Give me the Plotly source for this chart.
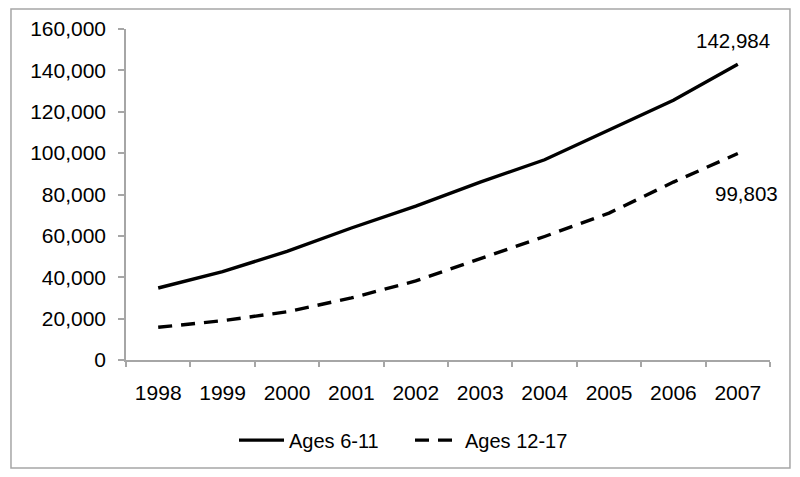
import plotly.graph_objects as go

years = ["1998", "1999", "2000", "2001", "2002", "2003", "2004", "2005", "2006", "2007"]
ages_6_11 = [34800, 42700, 52500, 63800, 74400, 86000, 96800, 111000, 125600, 142984]
ages_12_17 = [15800, 19000, 23300, 30000, 38200, 48800, 59700, 71000, 86000, 99803]
y_ticks = [0, 20000, 40000, 60000, 80000, 100000, 120000, 140000, 160000]

FONT = "Liberation Sans, Arial, sans-serif"
GRAY = "#a6a6a6"
FS = 21

fig = go.Figure()
fig.add_trace(go.Scatter(x=years, y=ages_6_11, mode="lines", name="Ages 6-11",
                         line=dict(color="black", width=3.4)))
fig.add_trace(go.Scatter(x=years, y=ages_12_17, mode="lines", name="Ages 12-17",
                         line=dict(color="black", width=3.4, dash="14px,9px")))

last = len(years) - 1
fig.add_annotation(xref="x", yref="y", x=last, y=ages_6_11[-1], text=f"{ages_6_11[-1]:,}",
                   showarrow=False, xshift=-5, yshift=24,
                   font=dict(family=FONT, size=20.5, color="black"))
fig.add_annotation(xref="x", yref="y", x=last, y=ages_12_17[-1], text=f"{ages_12_17[-1]:,}",
                   showarrow=False, xshift=9, yshift=-40,
                   font=dict(family=FONT, size=20.5, color="black"))

# plot area: 644 x 331 px
fig.add_shape(type="rect", xref="paper", yref="paper", x0=-0.1786, x1=1.031, y0=-0.326, y1=1.0604,
              line=dict(color=GRAY, width=1.5), fillcolor="rgba(0,0,0,0)", layer="below")

fig.update_layout(
    width=800, height=477,
    margin=dict(l=118, r=38, t=21, b=125, autoexpand=False),
    paper_bgcolor="white", plot_bgcolor="white",
    font=dict(family=FONT, size=FS, color="black"),
    showlegend=True,
    legend=dict(orientation="h", x=0.441, xanchor="center",
                y=-0.242, yanchor="middle",
                font=dict(family=FONT, size=20, color="black"), itemwidth=45,
                entrywidth=116, entrywidthmode="pixels",
                bgcolor="rgba(0,0,0,0)"),
    xaxis=dict(type="category", showgrid=False, showline=True, linecolor=GRAY, linewidth=1.5,
               ticks="outside", tickson="boundaries", ticklen=5, tickcolor=GRAY, tickwidth=1.5,
               ticklabelstandoff=13, tickfont=dict(family=FONT, size=FS, color="black"),
               range=[-0.5, 9.5], zeroline=False, tickangle=0),
    yaxis=dict(range=[0, 160000], tickvals=y_ticks, tickformat=",d", showgrid=False,
               showline=True, linecolor=GRAY, linewidth=1.5, ticks="outside", ticklen=6,
               tickcolor=GRAY, tickwidth=1.5, ticklabelstandoff=8, zeroline=False,
               tickfont=dict(family=FONT, size=FS, color="black")),
)

fig.write_html("out.html")
